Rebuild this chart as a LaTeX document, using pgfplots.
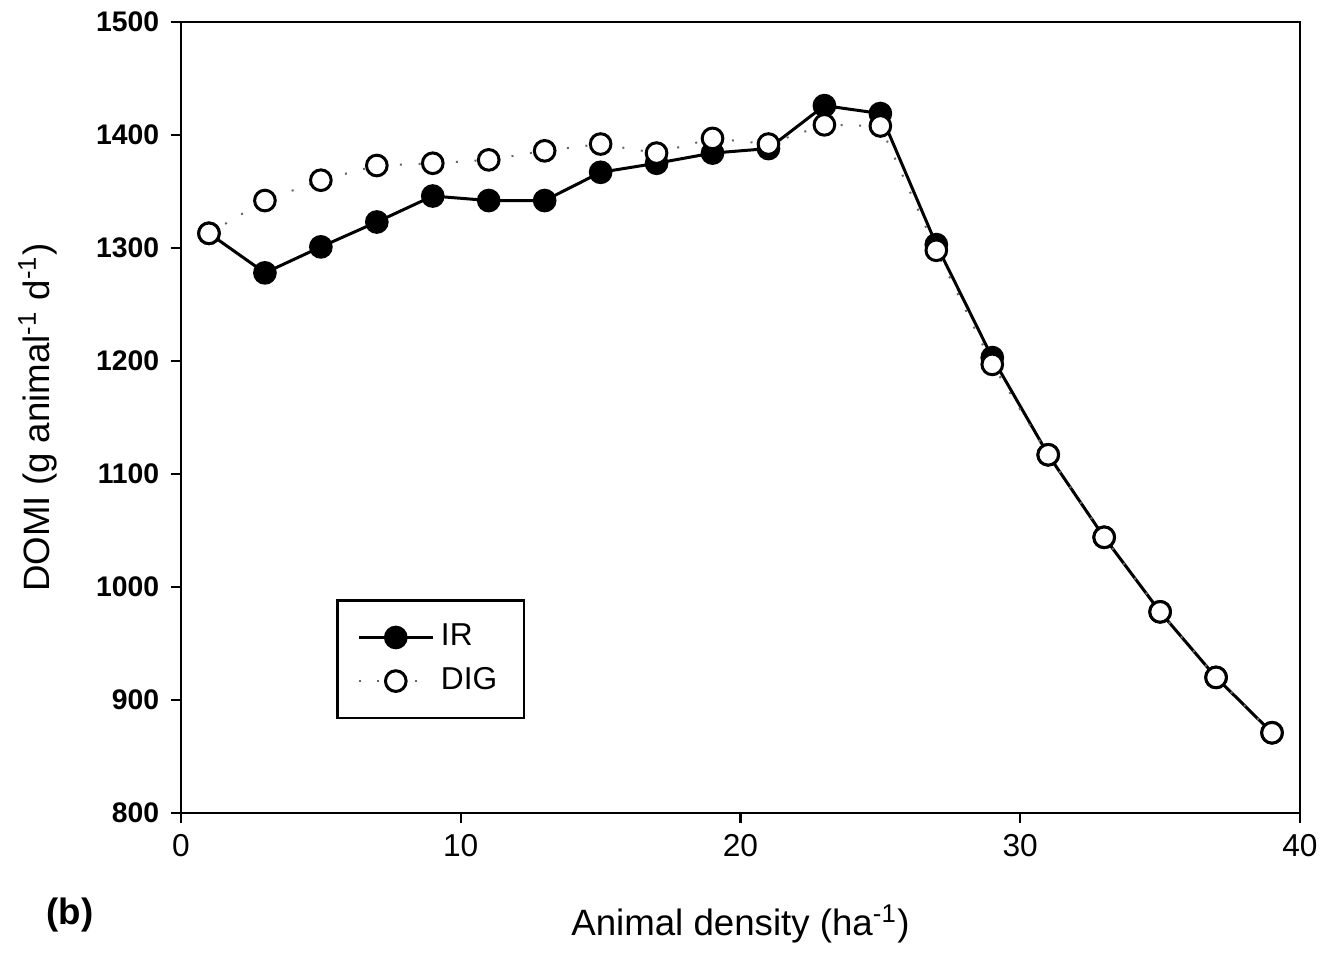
\documentclass[border=0pt]{standalone}
\usepackage{fontspec}
\setmainfont{Liberation Sans}
\usepackage{pgfplots}
\pgfplotsset{compat=1.18}

\begin{document}
\begin{tikzpicture}
\useasboundingbox (-54.3pt,-42pt) rectangle (342.6pt,243.9pt);
\begin{axis}[
  at={(0,0)}, anchor=origin,
  scale only axis, width=335.7pt, height=237.3pt,
  xmin=0, xmax=40, ymin=800, ymax=1500,
  xtick={0,10,20,30,40}, ytick={800,900,...,1500},
  tick align=outside, xtick pos=bottom, ytick pos=left,
  major tick length=3pt,
  axis line style={line width=0.8pt}, tick style={line width=0.7pt, black},
  /pgf/number format/assume math mode=true,
  /pgf/number format/1000 sep={},
  xticklabel style={font=\fontsize{9.5}{11}\selectfont},
  yticklabel style={font=\fontsize{8.5}{10}\selectfont\bfseries},
  xlabel={Animal density (ha\textsuperscript{-1})},
  ylabel={DOMI (g animal\textsuperscript{-1} d\textsuperscript{-1})},
  label style={font=\fontsize{11}{13}\selectfont},
  xlabel style={yshift=-7.5pt},
  ylabel style={yshift=5pt},
  legend style={at={(axis cs:5.54,989)}, anchor=north west, draw=black, line width=0.8pt,
    font=\fontsize{9.5}{11}\selectfont, inner xsep=6pt, inner ysep=5pt, row sep=1pt},
  legend cell align=left,
  legend image code/.code={\draw[mark repeat=2, mark phase=2, #1]
    plot coordinates {(0cm,0cm) (0.39cm,0cm) (0.78cm,0cm)};},
]
\addplot[black, line width=0.9pt, mark=*, mark size=3.1pt, mark options={solid, fill=black}]
coordinates {(1,1313) (3,1278) (5,1301) (7,1323) (9,1346) (11,1342) (13,1342) (15,1367) (17,1375) (19,1384) (21,1388) (23,1426) (25,1419) (27,1303) (29,1203) (31,1117) (33,1044) (35,978) (37,920) (39,871)};
\addlegendentry{IR}
\addplot[black!60, line width=0.6pt, dash pattern=on 0.6pt off 5pt, mark=*, mark size=3.1pt, mark options={solid, draw=black, fill=white, line width=0.9pt}]
coordinates {(1,1313) (3,1342) (5,1360) (7,1373) (9,1375) (11,1378) (13,1386) (15,1392) (17,1384) (19,1397) (21,1392) (23,1409) (25,1408) (27,1298) (29,1197) (31,1117) (33,1044) (35,978) (37,920) (39,871)};
\addlegendentry{DIG}
\end{axis}
\node[font=\fontsize{11}{13}\selectfont\bfseries] at (-33.3pt,-30.6pt) {(b)};
\end{tikzpicture}
\end{document}
